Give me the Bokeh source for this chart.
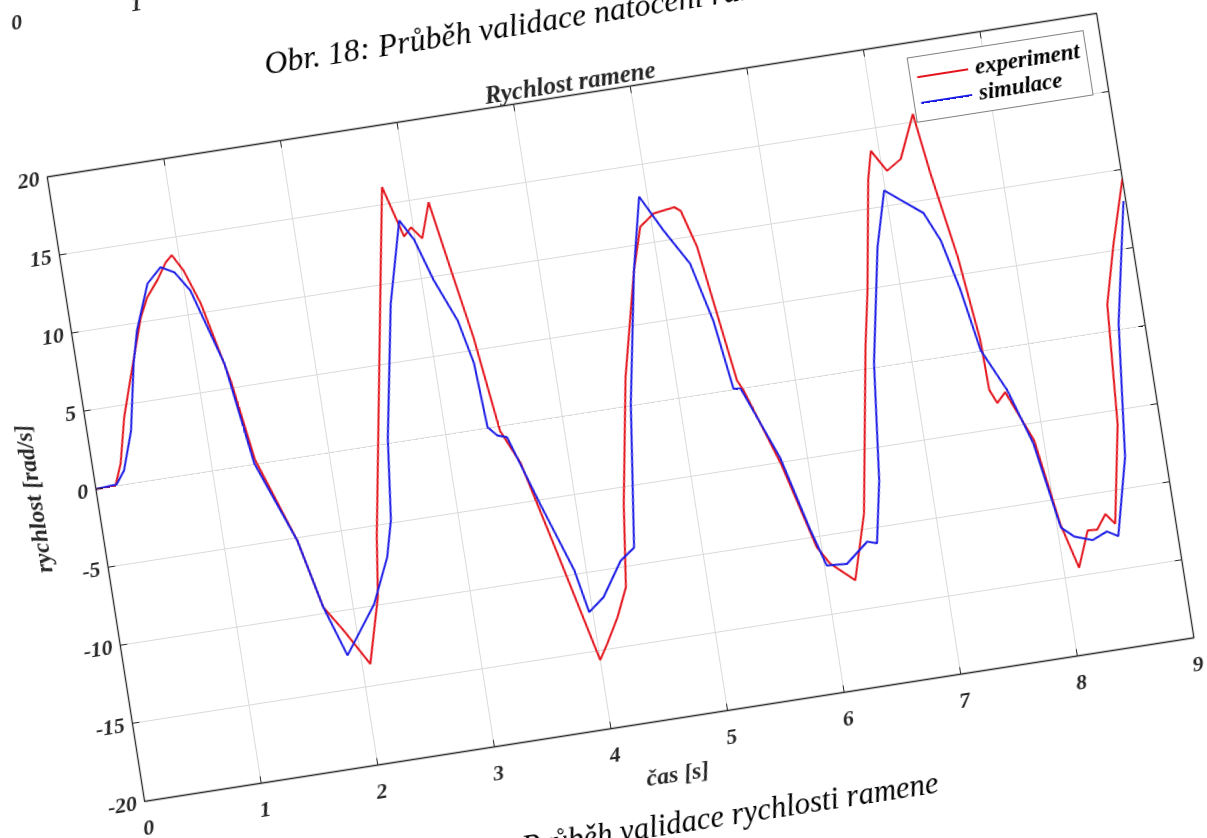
import math
from bokeh.plotting import figure
from bokeh.models import (Range1d, SingleIntervalTicker, Title, Legend, LegendItem,
                          PrintfTickFormatter)
from bokeh.embed import file_html
from bokeh.resources import INLINE

# ---- data ----
time_exp = [0.00, 0.17, 0.24, 0.33, 0.43, 0.60, 0.68, 0.79, 0.88, 0.94, 1.02, 1.12, 1.27,
            1.37, 1.62, 1.75, 1.89, 2.07, 2.22, 2.29, 2.48, 2.67, 2.79, 2.91, 2.98, 3.06,
            3.16, 3.26, 3.36, 3.46, 3.59, 3.78, 4.00, 4.08, 4.20, 4.31, 4.40, 4.58, 4.79,
            4.90, 5.03, 5.21, 5.26, 5.35, 5.43, 5.51, 5.55, 5.77, 5.96, 6.05, 6.24, 6.40,
            6.63, 6.72, 6.87, 6.93, 7.04, 7.17, 7.33, 7.40, 7.52, 7.60, 7.61, 7.66, 7.74,
            7.92, 8.03, 8.13, 8.25, 8.33, 8.42, 8.49, 8.64, 8.71, 8.84, 9.00]
rychlost_exp = [0.0, 0.05, 1.35, 4.2, 6.5, 10.3, 11.5, 12.5, 13.5, 13.9, 12.8, 10.6, 5.5,
                0.3, -5.2, -9.6, -11.25, -13.6, -9.5, -5.7, 2.6, 10.9, 16.1, 12.8, 13.3, 12.5,
                14.7, 10.2, 5.8, -0.3, -2.5, -8.5, -15.6, -14.65, -13.1, -11.3, -6.1, 1.8, 8.4,
                11.1, 11.8, 12.0, 11.7, 9.3, 4.9, 0.55, -0.1, -5.1, -10.65, -11.8, -13.1, -9.0,
                1.4, 4.9, 11.8, 13.6, 12.2, 12.8, 15.5, 11.6, 6.1, 0.7, -2.5, -3.4, -2.8,
                -6.1, -11.6, -14.5, -12.25, -12.3, -11.4, -12.1, -5.9, 1.7, 5.4, 9.4]

time_sim = [0.00, 0.18, 0.26, 0.37, 0.48, 0.55, 0.70, 0.83, 0.94, 1.05, 1.24, 1.36, 1.62,
            1.75, 1.89, 2.18, 2.35, 2.43, 2.51, 2.71, 2.89, 2.99, 3.10, 3.25, 3.33, 3.36,
            3.43, 3.51, 3.70, 3.90, 3.97, 4.11, 4.30, 4.43, 4.59, 4.79, 4.93, 5.09, 5.27,
            5.39, 5.47, 5.53, 5.77, 5.93, 6.02, 6.19, 6.39, 6.47, 6.57, 6.68, 6.86, 6.99,
            7.14, 7.29, 7.40, 7.50, 7.59, 7.76, 7.91, 8.03, 8.13, 8.28, 8.41, 8.50, 8.66,
            8.78, 8.98]
rychlost_sim = [0.0, 0.1, 0.9, 3.3, 7.5, 9.5, 12.35, 13.25, 12.8, 11.5, 6.6, 0.06, -5.2,
                -9.6, -12.85, -9.9, -7.1, -4.8, 0.3, 8.7, 13.85, 12.5, 9.8, 7.0, 4.2, 0.06,
                -0.55, -0.76, -5.25, -9.74, -12.5, -11.7, -9.6, -8.9, 0.1, 8.4, 13.0, 10.65,
                8.3, 4.5, 0.06, 0.0, -4.7, -9.55, -11.9, -12.0, -10.8, -11.0, -7.1, 0.3, 7.5,
                11.0, 10.1, 9.2, 7.3, 4.0, 0.06, -2.7, -6.3, -11.8, -12.5, -12.9, -12.5, -12.9,
                -8.0, 0.4, 8.0]

x_limits = (0, 9)
y_limits = (-20, 20)
x_step = 1
y_step = 5
x_ticks = list(range(x_limits[0], x_limits[1] + 1, x_step))
y_ticks = list(range(y_limits[0], y_limits[1] + 1, y_step))

title_text = "Rychlost ramene"
x_label = "čas [s]"
y_label = "rychlost [rad/s]"
series_names = ["experiment", "simulace"]
caption_prev = "Obr. 18: Průběh validace natočení ramene"
caption_this = "Obr. 19: Průběh validace rychlosti ramene"
prev_axis_labels = ["0", "1"]   # tick labels of the previous figure, cut by the page edge

# ---- styling ----
FONT = "Liberation Serif"
INK = "#262626"
RED = "#e3141c"
BLUE = "#1c1ce6"

# The scanned page is rotated ~8.86 deg counter-clockwise.  Bokeh sizes its canvas
# from the (rotated) bounding box of its element, so the element box is chosen such
# that this bounding box equals the wanted canvas (1207 x 965).
page_style = {
    "position": "fixed",
    "left": "0px",
    "top": "0px",
    "transform-origin": "0 0",
    "transform": "translate(-81.7px, 2.2px) rotate(-8.86deg)",
}

p = figure(width=1096, height=806,
           x_range=Range1d(*x_limits), y_range=Range1d(*y_limits),
           output_backend="svg", toolbar_location=None, title=None,
           min_border_left=100, min_border_right=45,
           min_border_top=192, min_border_bottom=141,
           background_fill_color="white", border_fill_color="white",
           styles=page_style)

p.outline_line_color = INK
p.outline_line_width = 1.3

for ax, step in ((p.xaxis[0], x_step), (p.yaxis[0], y_step)):
    ax.ticker = SingleIntervalTicker(interval=step, num_minor_ticks=0)
    ax.formatter = PrintfTickFormatter(format="%d")
    ax.major_tick_in = 7
    ax.major_tick_out = 0
    ax.minor_tick_line_color = None
    ax.axis_line_color = INK
    ax.major_tick_line_color = INK
    ax.major_label_text_font = FONT
    ax.major_label_text_font_style = "bold italic"
    ax.major_label_text_font_size = "22px"
    ax.major_label_text_color = INK
    ax.axis_label_text_font = FONT
    ax.axis_label_text_font_style = "bold italic"
    ax.axis_label_text_font_size = "24px"
    ax.axis_label_text_color = INK

p.xaxis.axis_label = x_label
p.yaxis.axis_label = y_label
p.xaxis.major_label_standoff = 19
p.yaxis.major_label_standoff = 8
p.xaxis.axis_label_standoff = 5
p.yaxis.axis_label_standoff = 10

p.xgrid.ticker = SingleIntervalTicker(interval=x_step, num_minor_ticks=0)
p.ygrid.ticker = SingleIntervalTicker(interval=y_step, num_minor_ticks=0)
p.grid.grid_line_color = "#dadada"
p.grid.grid_line_width = 1

# box ticks on the top and right edges (pointing inward)
p.ray(x=x_ticks, y=[y_limits[1]] * len(x_ticks), length=7, length_units="screen",
      angle=-math.pi / 2, line_color=INK, line_width=1)
p.ray(x=[x_limits[1]] * len(y_ticks), y=y_ticks, length=7, length_units="screen",
      angle=math.pi, line_color=INK, line_width=1)

# titles stacked above the frame: chart title, previous caption, previous tick labels
p.add_layout(Title(text=title_text, align="center", text_font=FONT,
                   text_font_style="bold italic", text_font_size="25px",
                   text_color=INK, standoff=0), "above")
p.add_layout(Title(text=caption_prev, align="left", offset=232, text_font=FONT,
                   text_font_style="italic", text_font_size="32px",
                   text_color="black", standoff=64), "above")
p.add_layout(Title(text=prev_axis_labels[0] + "\u00a0" * 20 + prev_axis_labels[1],
                   align="left", offset=-12, text_font=FONT,
                   text_font_style="bold italic", text_font_size="22px",
                   text_color=INK, standoff=30), "above")
# caption of this figure below the x axis
p.add_layout(Title(text=caption_this, align="left", offset=255, vertical_align="top",
                   text_font=FONT, text_font_style="italic", text_font_size="31px",
                   text_color="black", standoff=30), "below")

r_exp = p.line(time_exp, rychlost_exp, line_color=RED, line_width=2)
r_sim = p.line(time_sim, rychlost_sim, line_color=BLUE, line_width=2)

legend = Legend(items=[LegendItem(label=series_names[0], renderers=[r_exp]),
                       LegendItem(label=series_names[1], renderers=[r_sim])],
                location="top_right", margin=15, padding=6, spacing=0,
                label_height=25, glyph_height=25, glyph_width=52, label_standoff=7,
                label_text_font=FONT, label_text_font_style="bold italic",
                label_text_font_size="23px", label_text_color="black",
                border_line_color="black", border_line_width=1,
                background_fill_color="white", background_fill_alpha=1)
p.add_layout(legend)

open("out.html", "w").write(file_html(p, INLINE))
